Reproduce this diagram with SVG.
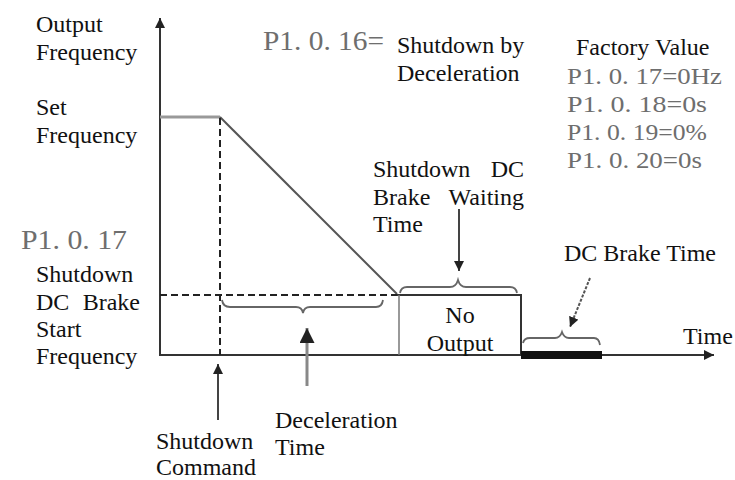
<svg xmlns="http://www.w3.org/2000/svg" width="735" height="480" viewBox="0 0 735 480">
<style>
text{font-family:"Liberation Serif","Times New Roman",serif;font-size:24px;fill:#111}
.code{fill:#6e6e6e;font-size:27px}
.fv{fill:#6e6e6e;font-size:24px}
.ax{stroke:#333;stroke-width:2;fill:none}
.dash{stroke:#222;stroke-width:2;stroke-dasharray:7 4;fill:none}
.br{stroke:#666;stroke-width:1.8;fill:none}
.ar{stroke:#444;stroke-width:2;fill:none}
</style>
<defs>
<marker id="ah" viewBox="0 0 10 10" refX="10" refY="5" markerWidth="5" markerHeight="5" orient="auto" markerUnits="strokeWidth"><path d="M0,0 L10,5 L0,10 z" fill="#222"/></marker>
</defs>
<rect width="735" height="480" fill="#fff"/>
<g id="axes">
<line class="ax" x1="160" y1="356" x2="160" y2="18" marker-end="url(#ah)"/>
<line class="ax" x1="160" y1="355" x2="714" y2="355" marker-end="url(#ah)"/>
</g>
<g id="curve">
<line x1="160" y1="117" x2="220" y2="117" stroke="#999" stroke-width="3"/>
<line x1="220" y1="117" x2="397" y2="294" stroke="#555" stroke-width="2"/>
<line class="dash" x1="220" y1="118" x2="220" y2="355"/>
<line class="dash" x1="160" y1="295" x2="397" y2="295"/>
</g>
<g id="no-output">
<path d="M397,295 L521,295 L521,355" stroke="#333" stroke-width="2" fill="none"/>
<line x1="399" y1="295" x2="399" y2="355" stroke="#777" stroke-width="1.5"/>
<text x="460" y="323" text-anchor="middle">No</text>
<text x="460" y="351" text-anchor="middle">Output</text>
</g>
<g id="dc-bar">
<rect x="521" y="351" width="81" height="8" fill="#111"/>
</g>
<g id="connectors">
<path class="br" d="M222,300 Q223,307 230,307 L296,307 Q302,307 303,313 Q304,307 310,307 L376,307 Q382,307 383,300"/>
<path class="br" d="M400,293 Q401,287 407,287 L450,287 Q456,287 458,280 Q460,287 466,287 L510,287 Q516,287 517,293"/>
<path class="br" d="M523,343 Q524,338 530,338 L555,338 Q560,338 562,332 Q564,338 569,338 L594,338 Q599,338 600,345"/>
<line class="ar" x1="459" y1="209" x2="459" y2="271" marker-end="url(#ah)"/>
<line x1="307" y1="386" x2="307" y2="328" stroke="#888" stroke-width="3" marker-end="url(#ah)"/>
<line class="ar" x1="218" y1="420" x2="218" y2="364" marker-end="url(#ah)"/>
<line x1="590" y1="278" x2="570" y2="327" stroke="#555" stroke-width="2" stroke-dasharray="3 1.5" marker-end="url(#ah)"/>
</g>
<g id="labels">
<text x="36" y="32">Output</text>
<text x="36" y="60">Frequency</text>
<text x="36" y="115">Set</text>
<text x="36" y="143">Frequency</text>
<text class="code" x="263" y="50" textLength="121" lengthAdjust="spacingAndGlyphs">P1. 0. 16=</text>
<text x="397" y="53">Shutdown by</text>
<text x="397" y="81">Deceleration</text>
<text x="576" y="55">Factory Value</text>
<text class="fv" x="567" y="84" textLength="155" lengthAdjust="spacingAndGlyphs">P1. 0. 17=0Hz</text>
<text class="fv" x="567" y="112" textLength="140" lengthAdjust="spacingAndGlyphs">P1. 0. 18=0s</text>
<text class="fv" x="567" y="140" textLength="140" lengthAdjust="spacingAndGlyphs">P1. 0. 19=0%</text>
<text class="fv" x="567" y="168" textLength="135" lengthAdjust="spacingAndGlyphs">P1. 0. 20=0s</text>
<text x="373" y="177">Shutdown</text>
<text x="524" y="177" text-anchor="end">DC</text>
<text x="373" y="205">Brake</text>
<text x="524" y="205" text-anchor="end">Waiting</text>
<text x="373" y="232">Time</text>
<text class="code" x="21" y="249" textLength="106" lengthAdjust="spacingAndGlyphs">P1. 0. 17</text>
<text x="36" y="282">Shutdown</text>
<text x="36" y="310">DC</text>
<text x="140" y="310" text-anchor="end">Brake</text>
<text x="36" y="337">Start</text>
<text x="36" y="364">Frequency</text>
<text x="564" y="261">DC Brake Time</text>
<text x="683" y="344">Time</text>
<text x="275" y="428">Deceleration</text>
<text x="275" y="455">Time</text>
<text x="156" y="449">Shutdown</text>
<text x="156" y="475">Command</text>
</g>
</svg>
